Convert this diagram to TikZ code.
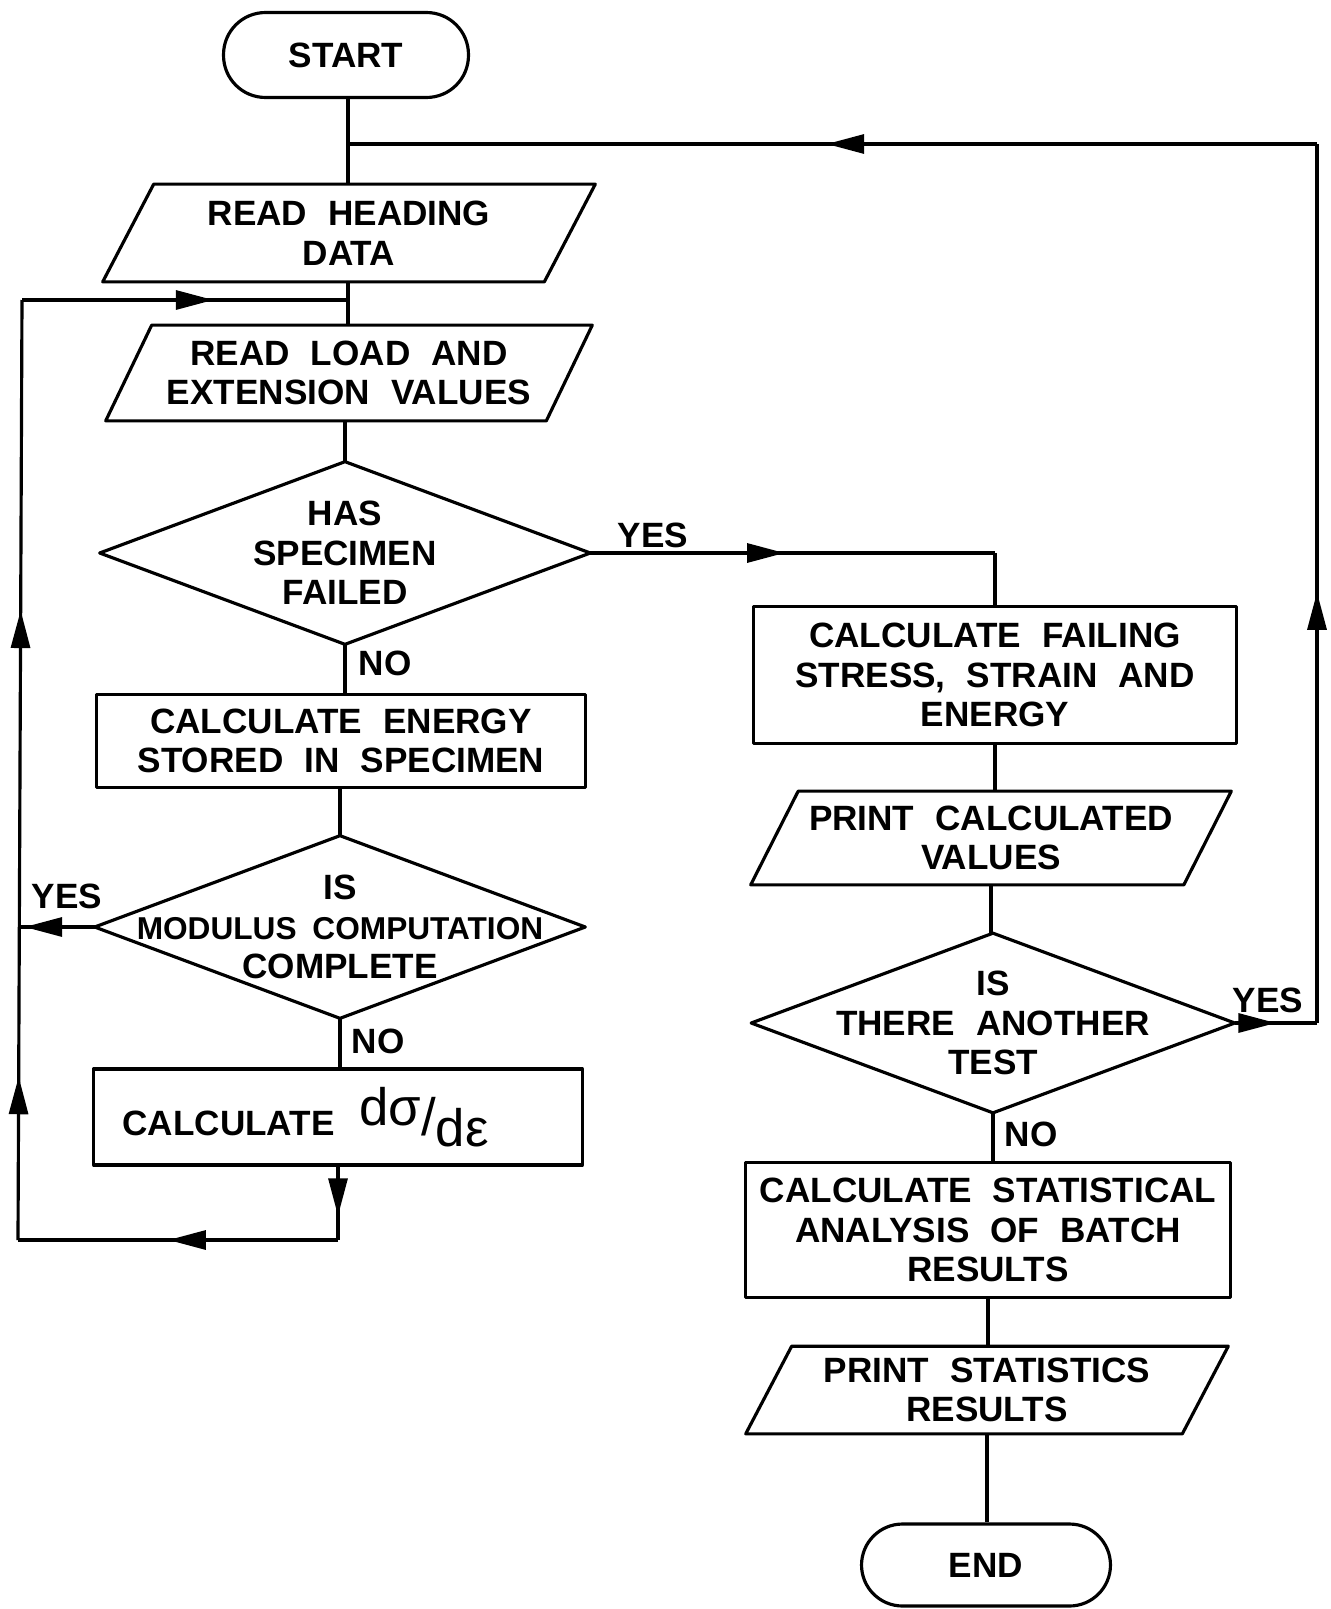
\documentclass[tikz,border=0pt]{standalone}
\usepackage{fontspec}
\setmainfont{Liberation Sans}
\usetikzlibrary{arrows.meta,decorations.markings,calc}

\newcommand\lettering{\bfseries\fontsize{20}{22.5}\selectfont\spaceskip=0.6em plus 0.1em\relax}
\newcommand\drawpara[2]{\draw[flow] ([xshift=#2]#1.north west) -- (#1.north east) -- ([xshift=-#2]#1.south east) -- (#1.south west) -- cycle;}
\newcommand\drawdiamond[1]{\draw[flow] (#1.north) -- (#1.east) -- (#1.south) -- (#1.west) -- cycle;}

\tikzset{
  flow/.style={line width=1.8pt, line join=round},
  txt/.style={font=\lettering, align=center, inner sep=0pt},
  procbox/.style={txt, draw, flow, rectangle},
  shell/.style={txt, rectangle},
  term/.style={txt, draw, flow, rectangle, rounded corners=0.84cm},
  lbl/.style={font=\lettering, inner sep=0pt},
  arrowat/.style={postaction={decorate}, decoration={markings, mark=at position #1 with {\arrow{Triangle[length=0.75cm,width=0.38cm]}}}},
}

\begin{document}
\begin{tikzpicture}[x=0.02cm,y=-0.02cm]
\useasboundingbox (0,0) rectangle (1331,1609);

% nodes
\node[term, minimum width=4.9cm, minimum height=1.7cm] (start) at (346,55) {START};
\node[shell, minimum width=9.84cm, minimum height=1.94cm] (head) at (349,233) {READ HEADING\\DATA};
\node[shell, minimum width=9.72cm, minimum height=1.9cm] (load) at (349,373) {READ LOAD AND\\EXTENSION VALUES};
\node[shell, minimum width=9.8cm, minimum height=3.64cm] (fail) at (345,553) {HAS\\SPECIMEN\\FAILED};
\node[procbox, minimum width=9.78cm, minimum height=1.86cm] (energy) at (341,741) {CALCULATE ENERGY\\STORED IN SPECIMEN};
\node[shell, minimum width=9.8cm, minimum height=3.64cm] (modulus) at (340,927) {IS\\{\fontsize{18}{22.5}\selectfont\spaceskip=0.5em\relax MODULUS COMPUTATION}\\COMPLETE};
\node[procbox, minimum width=9.78cm, minimum height=1.92cm] (dsde) at (338,1117) {CALCULATE\hspace{0.7em}{\mdseries\fontsize{30}{30}\selectfont\raisebox{0.35ex}{dσ}/\raisebox{-0.4ex}{dε}}\hspace{1.3cm}};

\node[procbox, minimum width=9.66cm, minimum height=2.74cm] (failing) at (995,675) {CALCULATE FAILING\\STRESS, STRAIN AND\\ENERGY};
\node[shell, minimum width=9.6cm, minimum height=1.86cm] (printcalc) at (991,838) {PRINT CALCULATED\\VALUES};
\node[shell, minimum width=9.66cm, minimum height=3.58cm] (another) at (993,1023) {IS\\THERE ANOTHER\\TEST};
\node[procbox, minimum width=9.7cm, minimum height=2.7cm] (stat) at (988,1230) {CALCULATE STATISTICAL\\ANALYSIS OF BATCH\\RESULTS};
\node[shell, minimum width=9.64cm, minimum height=1.74cm] (printstat) at (987,1390) {PRINT STATISTICS\\RESULTS};
\node[term, minimum width=4.98cm, minimum height=1.64cm, rounded corners=0.82cm] (end) at (986,1565) {END};

% outlines
\drawpara{head}{1.02cm}
\drawpara{load}{0.92cm}
\drawpara{printcalc}{0.95cm}
\drawpara{printstat}{0.92cm}
\drawdiamond{fail}
\drawdiamond{modulus}
\drawdiamond{another}

% junction coordinates
\coordinate (j1) at (348,144);
\coordinate (j2) at (348,300);
\coordinate (rt) at (1317,144);
\coordinate (rb) at (another.east -| rt);
\coordinate (lt) at (22,300);
\coordinate (lb) at (18,1240);
\coordinate (ly) at ($(lb)!0.334!(lt)$);
\coordinate (db) at (dsde.south |- lb);
\coordinate (fy) at (failing.north |- fail.east);

% connectors
\draw[flow] (j1 |- start.south) -- (j1) -- (j1 |- head.north);
\draw[flow] (j2 |- head.south) -- (j2) -- (j2 |- load.north);
\draw[flow] (fail.north |- load.south) -- (fail.north);
\draw[flow] (fail.south) -- (fail.south |- energy.north);
\draw[flow] (modulus.north |- energy.south) -- (modulus.north);
\draw[flow] (modulus.south) -- (modulus.south |- dsde.north);
\draw[flow, arrowat=0.67] (dsde.south) -- (db);
\draw[flow, arrowat=0.53] (db) -- (lb);
\draw[flow, arrowat=0.52] (lb) -- (ly);
\draw[flow, arrowat=0.504] (ly) -- (lt);
\draw[flow, arrowat=0.587] (lt) -- (j2);
\draw[flow, arrowat=0.93] (modulus.west) -- (modulus.west -| ly);
\draw[flow, arrowat=0.48] (fail.east) -- (fy);
\draw[flow] (fy) -- (failing.north);
\draw[flow] (failing.south) -- (failing.south |- printcalc.north);
\draw[flow] (printcalc.south) -- (printcalc.south |- another.north);
\draw[flow] (another.south) -- (another.south |- stat.north);
\draw[flow] (stat.south) -- (stat.south |- printstat.north);
\draw[flow] (printstat.south) -- (printstat.south |- end.north);
\draw[flow, arrowat=0.5] (another.east) -- (rb);
\draw[flow, arrowat=0.49] (rb) -- (rt);
\draw[flow, arrowat=0.506] (rt) -- (j1);

% labels
\node[lbl] (yes1) at (653,535) {YES};
\node[lbl] (no1) at (385,663) {NO};
\node[lbl] (yes2) at (67,896) {YES};
\node[lbl] (no2) at (378,1041) {NO};
\node[lbl] (yes3) at (1268,1000) {YES};
\node[lbl] (no3) at (1031,1134) {NO};
\end{tikzpicture}
\end{document}
